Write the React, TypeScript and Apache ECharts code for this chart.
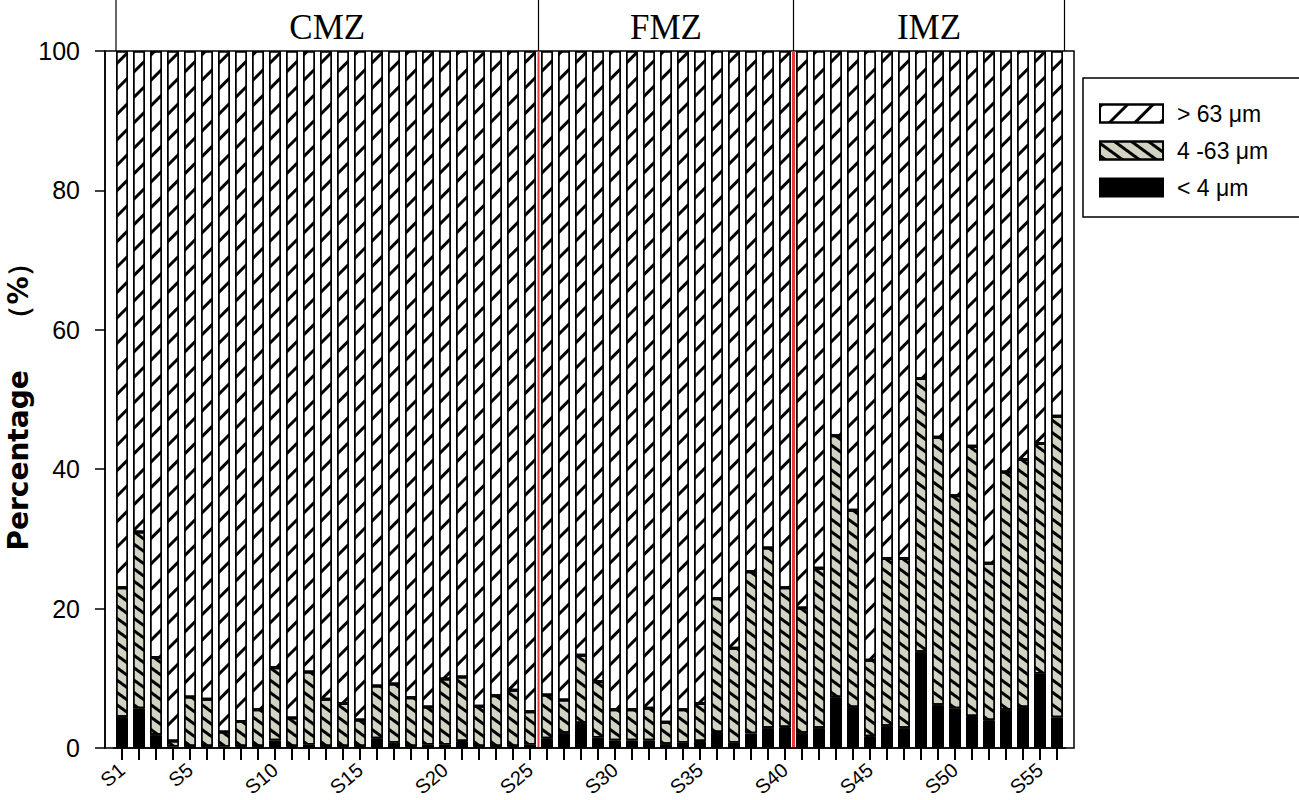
import React, { useEffect, useRef } from "react";
import * as echarts from "echarts";

const categories = [
  "S1","S2","S3","S4","S5","S6","S7","S8","S9","S10",
  "S11","S12","S13","S14","S15","S16","S17","S18","S19","S20",
  "S21","S22","S23","S24","S25","S26","S27","S28","S29","S30",
  "S31","S32","S33","S34","S35","S36","S37","S38","S39","S40",
  "S41","S42","S43","S44","S45","S46","S47","S48","S49","S50",
  "S51","S52","S53","S54","S55","S56",
];

// < 4 μm
const clay = [
  4.5, 5.7, 1.9, 0.2, 0.3, 0.3, 0.2, 0.3, 0.3, 1.1,
  0.3, 0.5, 0.3, 0.3, 0.3, 1.4, 0.8, 0.3, 0.5, 0.5,
  1.0, 0.3, 0.3, 0.3, 0.5, 1.4, 2.2, 3.6, 1.5, 1.1,
  1.1, 1.1, 0.6, 0.8, 1.0, 2.3, 0.8, 2.1, 2.9, 3.0,
  2.2, 2.9, 7.3, 5.9, 1.7, 3.2, 2.9, 13.8, 6.2, 5.7,
  4.6, 4.0, 5.5, 5.9, 10.7, 4.4,
];

// 4 - 63 μm
const silt = [
  18.5, 25.3, 11.1, 0.8, 7.0, 6.7, 2.1, 3.5, 5.2, 10.4,
  4.0, 10.4, 6.7, 6.1, 3.7, 7.5, 8.4, 6.9, 5.4, 9.4,
  9.2, 5.7, 7.2, 8.0, 4.7, 6.2, 4.7, 9.7, 8.0, 4.4,
  4.4, 4.6, 3.1, 4.7, 5.4, 19.1, 13.5, 23.2, 25.8, 20.0,
  17.9, 22.9, 37.5, 28.2, 10.9, 24.0, 24.3, 39.2, 38.4, 30.5,
  38.7, 22.5, 34.1, 35.5, 33.0, 43.2,
];

// > 63 μm
const sand = [
  77.0, 69.0, 87.0, 99.0, 92.7, 93.0, 97.7, 96.2, 94.5, 88.5,
  95.7, 89.1, 93.0, 93.6, 96.0, 91.1, 90.8, 92.8, 94.1, 90.1,
  89.8, 94.0, 92.5, 91.7, 94.8, 92.4, 93.1, 86.7, 90.5, 94.5,
  94.5, 94.3, 96.3, 94.5, 93.6, 78.6, 85.7, 74.7, 71.3, 77.0,
  79.9, 74.2, 55.2, 65.9, 87.4, 72.8, 72.8, 47.0, 55.4, 63.8,
  56.7, 73.5, 60.4, 58.6, 56.3, 52.4,
];

const seriesNames = ["> 63 μm", "4 -63 μm", "< 4 μm"];
const yTicks = [0, 20, 40, 60, 80, 100];
const zoneNames = ["CMZ", "FMZ", "IMZ"];
const zoneFirst = ["S1", "S26", "S41"];
const zoneLast = ["S25", "S40", "S56"];

const W = 1299;
const H = 800;

export default function App() {
  const ref = useRef<HTMLDivElement>(null);

  useEffect(() => {
    if (!ref.current) return;
    const chart = echarts.init(ref.current, null, { renderer: "svg" });
    const barW = 12;
    const option: any = {
      animation: false,
      backgroundColor: "#fff",
      textStyle: { fontFamily: "Liberation Sans, Arial, sans-serif", color: "#000" },
      grid: [
        { left: 113.5, right: 233.5, top: 51, bottom: 52, containLabel: false, outerBoundsMode: "none" },
        {
          left: 105, right: 225, top: 51, bottom: 52, show: true, outerBoundsMode: "none",
          borderColor: "#000", borderWidth: 1.5, backgroundColor: "transparent",
        },
      ],
      legend: {
        orient: "vertical",
        left: 1083,
        top: 78,
        data: seriesNames,
        icon: "rect",
        itemWidth: 63,
        itemHeight: 18,
        itemGap: 14,
        padding: [24, 40, 18, 16],
        borderColor: "#000",
        borderWidth: 1.5,
        textStyle: { fontSize: 23, color: "#000", padding: [0, 0, 0, 9], fontFamily: "Liberation Sans, Arial, sans-serif" },
      },
      xAxis: [
        {
          type: "category",
          gridIndex: 0,
          position: "bottom",
          data: categories,
          boundaryGap: true,
          axisLine: { show: true, lineStyle: { color: "#000", width: 1.5 } },
          axisTick: { show: true, inside: false, alignWithLabel: true, interval: 0, length: 12, lineStyle: { color: "#000", width: 2 } },
          axisLabel: {
            interval: (i: number) => i === 0 || (i + 1) % 5 === 0,
            rotate: 40,
            margin: 19,
            fontSize: 20,
            color: "#000",
          },
          splitLine: { show: false },
          z: 20,
        },
        { type: "value", gridIndex: 1, show: false, min: 0, max: 1 },
      ],
      yAxis: [
        { type: "value", gridIndex: 0, min: 0, max: 100, show: false },
        {
          type: "value",
          gridIndex: 1,
          min: yTicks[0],
          max: yTicks[yTicks.length - 1],
          interval: 20,
          name: "Percentage \u3000（%）",
          nameLocation: "middle",
          nameGap: 73,
          nameMoveOverlap: false,
          nameTextStyle: { fontSize: 28, fontWeight: "bold", fontFamily: "DejaVu Sans, sans-serif", color: "#000" },
          axisLine: { show: true, lineStyle: { color: "#000", width: 1.5 } },
          axisTick: { show: true, length: 10, lineStyle: { color: "#000", width: 1.5 } },
          axisLabel: { fontSize: 25, margin: 25, color: "#000" },
          splitLine: { show: false },
        },
      ],
      series: [
        {
          name: seriesNames[2],
          type: "bar",
          stack: "total",
          xAxisIndex: 0,
          yAxisIndex: 0,
          barWidth: barW,
          data: clay,
          itemStyle: { color: "#000", borderColor: "#000", borderWidth: 1 },
        },
        {
          name: seriesNames[1],
          type: "bar",
          stack: "total",
          xAxisIndex: 0,
          yAxisIndex: 0,
          barWidth: barW,
          data: silt,
          itemStyle: {
            color: "#d2d3c3",
            borderColor: "#000",
            borderWidth: 1.5,
            decal: { symbol: "rect", color: "#000", dashArrayX: [1, 0], dashArrayY: [2.6, 7], rotation: Math.PI / 5 },
          },
        },
        {
          name: seriesNames[0],
          type: "bar",
          stack: "total",
          xAxisIndex: 0,
          yAxisIndex: 0,
          barWidth: barW,
          data: sand,
          itemStyle: {
            color: "#fff",
            borderColor: "#000",
            borderWidth: 1.5,
            decal: { symbol: "rect", color: "#000", dashArrayX: [1, 0], dashArrayY: [2.4, 15], rotation: -Math.PI / 4 },
          },
        },
      ],
    };
    chart.setOption(option);

    const px = (c: string) => chart.convertToPixel({ xAxisIndex: 0 }, c) as number;
    const yTop = chart.convertToPixel({ yAxisIndex: 0 }, 100) as number;
    const yBot = chart.convertToPixel({ yAxisIndex: 0 }, 0) as number;
    const graphic: any[] = [];

    // category ticks under each bar (drawn as thin rects)
    categories.forEach((c) => {
      graphic.push({
        type: "rect",
        shape: { x: Math.round(px(c)) - 1, y: yBot, width: 2, height: 12 },
        style: { fill: "#000" },
        z: 100,
      });
    });

    const startX = px(zoneFirst[0]) - barW / 2;
    const endX = px(zoneLast[zoneLast.length - 1]) + barW / 2 + 1.5;
    const bounds: number[] = [startX];
    for (let i = 0; i < zoneLast.length - 1; i++) {
      bounds.push((px(zoneLast[i]) + px(zoneFirst[i + 1])) / 2);
    }
    bounds.push(endX);
    bounds.forEach((x, i) => {
      graphic.push({
        type: "line",
        shape: { x1: x, y1: 0, x2: x, y2: yTop },
        style: { stroke: "#000", lineWidth: 1.2 },
        z: 10,
      });
      if (i > 0 && i < bounds.length - 1) {
        graphic.push({
          type: "line",
          shape: { x1: x, y1: yTop, x2: x, y2: yBot },
          style: { stroke: "#e8393b", lineWidth: i === 1 ? 2 : 3 },
          z: 10,
        });
      }
    });
    zoneNames.forEach((name, i) => {
      graphic.push({
        type: "text",
        x: (bounds[i] + bounds[i + 1]) / 2,
        y: 27,
        style: {
          text: name,
          fontSize: 35,
          fontFamily: "Liberation Serif, Times New Roman, serif",
          fill: "#000",
          align: "center",
          verticalAlign: "middle",
        },
        z: 10,
      });
    });
    chart.setOption({ graphic });

    return () => chart.dispose();
  }, []);

  return <div ref={ref} style={{ position: "absolute", left: 0, top: 0, width: W, height: H }} />;
}
